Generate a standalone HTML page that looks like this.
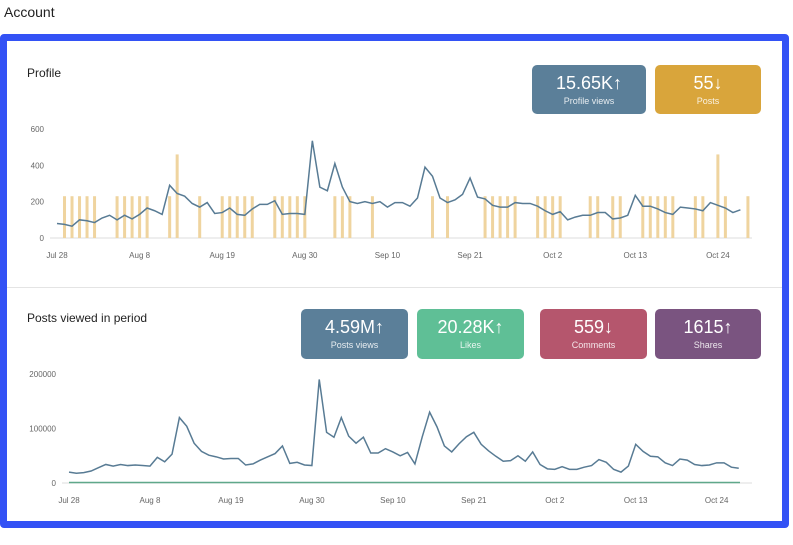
<!DOCTYPE html>
<html><head><meta charset="utf-8"><style>
body{margin:0;width:793px;height:545px;background:#fff;font-family:"Liberation Sans",sans-serif;position:relative;overflow:hidden}
.t{position:absolute;color:#222}
.frame{position:absolute;left:0;top:34px;width:775px;height:480px;border:7px solid #3352f5;border-radius:4px;background:#fff}
.card{position:absolute;border-radius:5px;color:#fff;text-align:center}
.card .v{font-size:18px;line-height:20px;margin-top:8px;font-weight:normal}
.card .l{font-size:9px;margin-top:3px;opacity:.85}
svg{position:absolute;left:0;top:0}
</style></head><body>
<div class="t" style="left:4px;top:4px;font-size:14px">Account</div>
<div class="frame"></div>
<div style="position:absolute;left:7px;right:11px;top:287px;height:1px;background:#e4e4e4"></div>
<div class="t" style="left:27px;top:66px;font-size:12px">Profile</div>
<div class="t" style="left:27px;top:311px;font-size:12px">Posts viewed in period</div>
<div class="card" style="left:532px;top:65px;width:114px;height:49px;background:#5b7f99"><div class="v">15.65K↑</div><div class="l">Profile views</div></div>
<div class="card" style="left:655px;top:65px;width:106px;height:49px;background:#d9a53b"><div class="v">55↓</div><div class="l">Posts</div></div>
<div class="card" style="left:301px;top:309px;width:107px;height:50px;background:#5b7f99"><div class="v">4.59M↑</div><div class="l">Posts views</div></div>
<div class="card" style="left:417px;top:309px;width:107px;height:50px;background:#5fbf96"><div class="v">20.28K↑</div><div class="l">Likes</div></div>
<div class="card" style="left:540px;top:309px;width:107px;height:50px;background:#b5566d"><div class="v">559↓</div><div class="l">Comments</div></div>
<div class="card" style="left:655px;top:309px;width:106px;height:50px;background:#7a5480"><div class="v">1615↑</div><div class="l">Shares</div></div>
<svg id="s" width="793" height="545" font-family="Liberation Sans, sans-serif" font-size="8" fill="#666"></svg>
<script>
var s=document.getElementById('s'),h='';
var p1=[80,75,65,100,95,85,110,125,100,125,105,130,165,150,130,290,245,230,190,170,195,135,140,165,130,125,160,185,185,205,130,135,135,130,535,280,260,410,280,200,190,200,190,200,170,195,195,175,220,390,340,220,195,210,240,330,225,215,180,170,170,195,190,190,175,150,130,145,100,115,125,125,140,140,105,110,125,235,175,175,160,140,130,170,165,160,150,195,180,165,140,155];
var bars=[1,2,3,4,5,8,9,10,11,12,15,16,19,22,23,24,25,26,29,30,31,32,33,37,38,39,42,50,52,57,58,59,60,61,64,65,66,67,71,72,74,75,78,79,80,81,82,85,86,88,89,92];
var x1=function(d){return 57+7.51*d},y1=function(v){return 238-v*0.1817};
[0,200,400,600].forEach(function(v){h+='<text x="44" y="'+(y1(v)+3)+'" text-anchor="end">'+v+'</text>'});
h+='<line x1="50" x2="752" y1="238" y2="238" stroke="#ddd"/>';
bars.forEach(function(d){var v=(d==16||d==88)?460:230;h+='<rect x="'+(x1(d)-1.5)+'" y="'+y1(v)+'" width="3" height="'+(v*0.1817)+'" fill="#efd49f"/>'});
h+='<polyline fill="none" stroke="#587b94" stroke-width="1.5" points="'+p1.map(function(v,i){return x1(i)+','+y1(v)}).join(' ')+'"/>';
var L=['Jul 28','Aug 8','Aug 19','Aug 30','Sep 10','Sep 21','Oct 2','Oct 13','Oct 24'];
L.forEach(function(t,i){h+='<text x="'+x1(i*11)+'" y="258" text-anchor="middle">'+t+'</text>'});
var p2=[20,18,19,22,28,34,31,34,32,33,32,31,47,39,53,120,104,73,58,51,48,44,45,45,33,35,42,48,54,68,36,38,33,32,190,93,84,120,86,73,84,55,55,63,57,50,56,35,85,130,103,68,57,72,85,93,71,59,49,40,41,50,40,57,34,26,25,30,25,25,29,32,43,38,25,20,31,71,58,49,48,37,32,44,42,34,32,33,37,37,29,27];
var x2=function(d){return 69+7.36*d},y2=function(v){return 483-v*0.545};
[[0,'0'],[100,'100000'],[200,'200000']].forEach(function(a){h+='<text x="56" y="'+(y2(a[0])+3)+'" text-anchor="end">'+a[1]+'</text>'});
h+='<line x1="62" x2="752" y1="483" y2="483" stroke="#ddd"/>';
h+='<line x1="69" x2="740" y1="482.5" y2="482.5" stroke="#5fa88a" stroke-width="1.5"/>';
h+='<polyline fill="none" stroke="#587b94" stroke-width="1.5" points="'+p2.map(function(v,i){return x2(i)+','+y2(v)}).join(' ')+'"/>';
L.forEach(function(t,i){h+='<text x="'+x2(i*11)+'" y="503" text-anchor="middle">'+t+'</text>'});
s.innerHTML=h;
</script>
</body></html>
